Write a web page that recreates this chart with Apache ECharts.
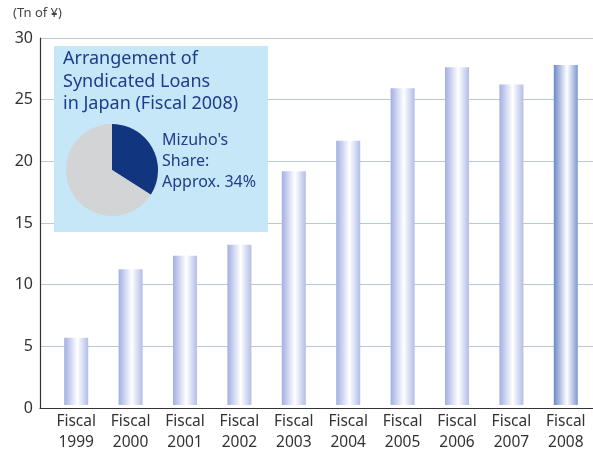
<!DOCTYPE html>
<html>
<head>
<meta charset="utf-8">
<script src="https://cdn.jsdelivr.net/npm/echarts@6/dist/echarts.min.js"></script>
<style>
html,body{margin:0;padding:0;background:#fff;}
#c{width:593px;height:453px;}
</style>
</head>
<body>
<div id="c"></div>
<script>
var categories = ['Fiscal\n1999','Fiscal\n2000','Fiscal\n2001','Fiscal\n2002','Fiscal\n2003','Fiscal\n2004','Fiscal\n2005','Fiscal\n2006','Fiscal\n2007','Fiscal\n2008'];
var values = [5.5, 11.1, 12.2, 13.1, 19.1, 21.6, 25.9, 27.6, 26.2, 27.8];
var yTicks = [0, 5, 10, 15, 20, 25, 30];
var pieShare = [34, 66];
var unitLabel = '(Tn of ¥)';
var insetTitle = 'Arrangement of\nSyndicated Loans\nin Japan (Fiscal 2008)';
var insetShare = "Mizuho's\nShare:\nApprox. 34%";
var pageTitle = "Trends in Japan's Syndicated Loan Market";

var FONT = 'Noto Sans';

function barGrad(edgeL, edgeR) {
  return new echarts.graphic.LinearGradient(0, 0, 1, 0, [
    {offset: 0, color: edgeL},
    {offset: 0.55, color: '#ffffff'},
    {offset: 1, color: edgeR}
  ]);
}

var barData = values.map(function (v, i) {
  var last = i === values.length - 1;
  return {
    value: v,
    itemStyle: {color: last ? barGrad('#6d88ca', '#7e96d4') : barGrad('#a2afe3', '#b2bde8')}
  };
});

var chart = echarts.init(document.getElementById('c'), null, {renderer: 'canvas'});
chart.setOption({
  backgroundColor: '#ffffff',
  animation: false,
  textStyle: {fontFamily: FONT},
  grid: [
    {left: 40, right: 0, top: 38, bottom: 45},
    {left: 49, right: -2, top: 38, bottom: 45}
  ],
  xAxis: [
    {
      gridIndex: 0, type: 'category', data: categories,
      axisLine: {lineStyle: {color: '#333', width: 1.2}},
      axisTick: {show: false}, axisLabel: {show: false}, splitLine: {show: false}
    },
    {
      gridIndex: 1, type: 'category', data: categories,
      axisLine: {show: false}, axisTick: {show: false},
      axisLabel: {color: '#333', fontSize: 15.5, lineHeight: 21, margin: 6, interval: 0, fontFamily: FONT}
    }
  ],
  yAxis: [
    {
      gridIndex: 0, type: 'value', min: 0, max: 30, interval: 5,
      axisLine: {show: true, lineStyle: {color: '#333', width: 1.2}},
      axisTick: {show: false},
      axisLabel: {color: '#333', fontSize: 16, margin: 7, fontFamily: FONT,
        formatter: function (v) { return yTicks.indexOf(v) >= 0 ? String(v) : ''; }},
      splitLine: {lineStyle: {color: '#b7cad4', width: 1.2}}
    },
    {
      gridIndex: 1, type: 'value', min: 0, max: 30, interval: 5,
      show: false
    }
  ],
  series: [
    {
      type: 'bar', xAxisIndex: 1, yAxisIndex: 1, data: barData,
      barWidth: 24, z: 2
    },
    {
      type: 'pie', center: [112, 170], radius: 46, startAngle: 90, clockwise: true,
      label: {show: false}, labelLine: {show: false}, silent: true, z: 10,
      data: [
        {value: pieShare[0], itemStyle: {color: '#12357f'}},
        {value: pieShare[1], itemStyle: {color: '#d3d4d6'}}
      ]
    }
  ],
  graphic: [
    {type: 'rect', z: 5, shape: {x: 54, y: 46, width: 214, height: 186}, style: {fill: '#c6e7f7'}},
    {type: 'text', z: 11, left: 63, top: 48,
      style: {text: insetTitle, fill: '#1c3c8c', font: '18px "' + FONT + '"', lineHeight: 22.5}},
    {type: 'text', z: 11, left: 162, top: 130,
      style: {text: insetShare, fill: '#1c3c8c', font: '16px "' + FONT + '"', lineHeight: 21}},
    {type: 'text', z: 11, left: 13, top: 7,
      style: {text: unitLabel, fill: '#444', font: '13px "' + FONT + '"'}},
    {type: 'text', z: 11, left: 40, top: -22,
      style: {text: pageTitle, fill: '#3b8fcf', font: 'bold 22px "' + FONT + '"'}}
  ]
});
</script>
</body>
</html>
